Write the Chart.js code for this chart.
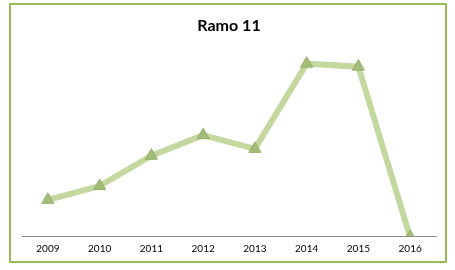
<!DOCTYPE html>
<html>
<head>
<meta charset="utf-8">
<script src="https://cdn.jsdelivr.net/npm/chart.js@4"></script>
<style>
  body { margin: 0; background: #fff; }
  #wrap { position: relative; width: 455px; height: 270px; }
  #frame { position: absolute; left: 9px; top: 3px; width: 434px; height: 256px; border: 2px solid #9bbb59; }
  canvas { position: absolute; left: 0; top: 0; }
</style>
</head>
<body>
<div id="wrap">
  <div id="frame"></div>
  <canvas id="grafico" width="455" height="270"></canvas>
</div>
<script>
// valores (escala arbitrária)
const anos = ['2009', '2010', '2011', '2012', '2013', '2014', '2015', '2016'];
const valores = [37, 51, 82, 103, 89, 176, 173, -1];
const titulo = 'Ramo 11';

const fonte = "Lato, 'Open Sans', sans-serif";

new Chart(document.getElementById('grafico'), {
    type: 'line',
    data: {
        labels: anos,
        datasets: [{
            label: titulo,
            data: valores,
            borderColor: '#c4d79f',
            borderWidth: 6,
            tension: 0,
            pointStyle: 'triangle',
            pointRadius: 7,
            pointBackgroundColor: '#a2bd78',
            pointBorderColor: '#93af68',
            pointBorderWidth: 1
        }]
    },
    options: {
        responsive: false,
        animation: false,
        layout: { padding: { left: 22, right: 19, top: 0, bottom: 8 } },
        plugins: {
            legend: { display: false },
            tooltip: { enabled: false },
            title: {
                display: true,
                text: titulo,
                color: '#000',
                font: { family: fonte, size: 16, weight: 'bold', lineHeight: 1.2 },
                padding: { top: 16, bottom: 5 }
            }
        },
        scales: {
            x: {
                offset: true,
                grid: { display: false, drawTicks: false },
                border: { display: true, color: '#8c8c8c', width: 1 },
                ticks: { color: '#000', padding: 7, font: { family: fonte, size: 10 } }
            },
            y: {
                display: false,
                min: 0,
                max: 200
            }
        }
    }
});
</script>
</body>
</html>
